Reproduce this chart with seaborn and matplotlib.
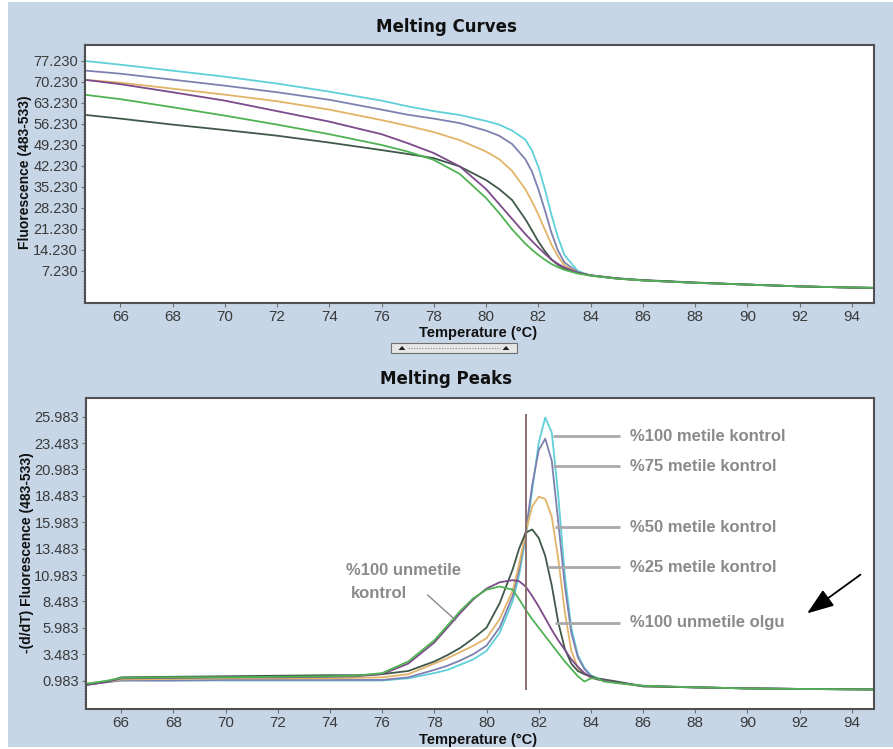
import numpy as np
import pandas as pd
import matplotlib
matplotlib.use("Agg")
import matplotlib.pyplot as plt
from matplotlib.patches import Rectangle, Polygon
from matplotlib.lines import Line2D
import seaborn as sns

# ---------------------------------------------------------------- data
samples = ["%100 metile kontrol", "%75 metile kontrol", "%50 metile kontrol",
           "%25 metile kontrol", "%100 unmetile olgu", "%100 unmetile kontrol"]
sample_colors = ["#5fd0d8", "#7e80b0", "#e2b468", "#3f5848", "#7c4a8a", "#4fb253"]

# Melting curves: fluorescence (483-533) vs temperature
melt_temp = [64.7, 66, 68, 70, 72, 74, 76, 77, 78, 79, 80, 80.5, 81, 81.5, 81.75,
             82, 82.25, 82.5, 82.75, 83, 83.5, 84, 85, 86, 88, 90, 92, 94, 94.85]
melt_m100 = [77.2, 76.0, 74.0, 72.0, 69.7, 67.0, 64.0, 62.1, 60.5, 59.2, 57.2, 56.0,
             54.0, 51.0, 47.5, 42.0, 34.5, 26.0, 18.5, 12.5, 7.2, 5.6, 4.6, 4.0,
             3.2, 2.6, 2.0, 1.6, 1.5]
melt_m75 = [74.0, 73.0, 71.0, 69.0, 66.8, 64.3, 61.0, 59.3, 58.0, 56.5, 54.0, 52.3,
            49.5, 44.5, 40.5, 34.5, 27.5, 20.0, 14.0, 10.0, 6.8, 5.6, 4.6, 4.0,
            3.2, 2.6, 2.0, 1.6, 1.5]
melt_m50 = [70.9, 70.0, 68.0, 66.0, 63.8, 61.0, 57.5, 55.6, 53.5, 50.8, 47.0, 44.5,
            40.5, 34.5, 30.5, 26.0, 21.0, 16.0, 12.0, 9.0, 6.6, 5.6, 4.6, 4.0,
            3.2, 2.6, 2.0, 1.6, 1.5]
melt_m25 = [59.2, 58.0, 56.0, 54.2, 52.3, 50.0, 47.5, 46.2, 44.8, 42.0, 37.5, 34.5,
            30.8, 24.5, 20.8, 17.0, 13.8, 11.0, 9.2, 8.0, 6.5, 5.7, 4.7, 4.1,
            3.3, 2.6, 2.0, 1.6, 1.5]
melt_u_case = [70.9, 69.5, 66.8, 64.0, 60.5, 57.0, 52.8, 49.8, 46.5, 42.0, 34.5, 29.5,
               24.5, 19.5, 17.2, 15.0, 12.9, 11.0, 9.5, 8.3, 6.6, 5.7, 4.7, 4.0,
               3.2, 2.6, 2.0, 1.6, 1.5]
melt_u_ctrl = [65.9, 64.5, 61.8, 59.0, 56.0, 52.8, 49.2, 47.0, 44.2, 39.5, 31.5, 26.5,
               21.0, 16.3, 14.3, 12.5, 10.9, 9.5, 8.4, 7.5, 6.3, 5.6, 4.6, 4.0,
               3.2, 2.6, 2.0, 1.6, 1.5]

# Melting peaks: -(d/dT) fluorescence vs temperature
peak_temp = [64.7, 65.5, 66, 68, 70, 72, 74, 75, 76, 77, 78, 78.5, 79, 79.5, 80,
             80.5, 81, 81.25, 81.5, 81.75, 82, 82.25, 82.5, 82.75, 83, 83.25, 83.5,
             83.75, 84, 84.25, 84.5, 85, 86, 88, 90, 92, 94.85]
peak_m100 = [0.7, 0.9, 1.0, 1.0, 1.0, 1.0, 1.0, 1.0, 1.0, 1.2, 1.7, 2.0, 2.5, 3.0, 3.8,
             5.5, 8.5, 11.0, 14.5, 19.0, 23.5, 25.9, 24.5, 18.5, 11.0, 6.0, 3.4,
             2.2, 1.5, 1.2, 1.0, 0.8, 0.45, 0.35, 0.25, 0.2, 0.15]
peak_m75 = [0.6, 0.85, 1.0, 1.0, 1.05, 1.05, 1.05, 1.05, 1.05, 1.3, 2.0, 2.4, 2.9, 3.5,
            4.3, 6.0, 9.0, 11.5, 15.0, 19.5, 22.8, 23.9, 21.8, 16.0, 10.0, 5.5, 3.2,
            2.1, 1.4, 1.15, 1.0, 0.8, 0.45, 0.35, 0.25, 0.2, 0.15]
peak_m50 = [0.7, 0.9, 1.1, 1.15, 1.2, 1.2, 1.2, 1.25, 1.3, 1.6, 2.6, 3.1, 3.7, 4.3, 5.0,
            6.8, 9.5, 12.0, 15.0, 17.5, 18.4, 18.2, 16.5, 12.5, 7.5, 3.8, 2.2,
            1.6, 1.3, 1.1, 1.0, 0.8, 0.45, 0.35, 0.25, 0.2, 0.15]
peak_m25 = [0.6, 0.9, 1.3, 1.35, 1.4, 1.45, 1.5, 1.5, 1.6, 1.9, 2.8, 3.4, 4.1, 5.0, 6.0,
            8.3, 11.5, 13.5, 15.0, 15.3, 14.5, 12.8, 10.0, 6.5, 4.0, 2.6, 1.9,
            1.6, 1.4, 1.2, 1.1, 0.9, 0.45, 0.35, 0.25, 0.2, 0.15]
peak_u_case = [0.6, 0.9, 1.2, 1.25, 1.3, 1.3, 1.35, 1.4, 1.6, 2.6, 4.6, 6.0, 7.4, 8.7,
               9.7, 10.3, 10.5, 10.4, 9.9, 9.0, 8.0, 6.9, 5.8, 4.8, 3.9, 3.0, 2.3,
               1.7, 1.3, 1.1, 1.0, 0.8, 0.5, 0.35, 0.25, 0.2, 0.15]
peak_u_ctrl = [0.7, 1.0, 1.25, 1.3, 1.3, 1.35, 1.4, 1.45, 1.7, 2.8, 4.8, 6.2, 7.6, 8.8,
               9.6, 9.9, 9.6, 8.7, 7.7, 6.8, 6.0, 5.2, 4.4, 3.6, 2.8, 2.1, 1.4,
               0.9, 1.2, 1.2, 0.9, 0.75, 0.5, 0.35, 0.25, 0.2, 0.15]

temp_ticks = list(range(66, 95, 2))
melt_yticks = [7.23, 14.23, 21.23, 28.23, 35.23, 42.23, 49.23, 56.23, 63.23, 70.23, 77.23]
peak_yticks = [0.983, 3.483, 5.983, 8.483, 10.983, 13.483, 15.983, 18.483, 20.983,
               23.483, 25.983]
cursor_temp = 81.5

melt_series = [melt_m100, melt_m75, melt_m50, melt_m25, melt_u_case, melt_u_ctrl]
peak_series = [peak_m100, peak_m75, peak_m50, peak_m25, peak_u_case, peak_u_ctrl]

curves = pd.DataFrame({
    "Temperature": np.tile(melt_temp, len(samples)),
    "Fluorescence": np.concatenate(melt_series),
    "Sample": np.repeat(samples, len(melt_temp)),
})
peaks = pd.DataFrame({
    "Temperature": np.tile(peak_temp, len(samples)),
    "dFdT": np.concatenate(peak_series),
    "Sample": np.repeat(samples, len(peak_temp)),
})
palette = dict(zip(samples, sample_colors))

# ---------------------------------------------------------------- style
sns.set_style("white")
plt.rcParams["font.family"] = ["Liberation Sans", "DejaVu Sans"]

W, H = 893, 749
fig = plt.figure(figsize=(W / 100, H / 100), dpi=100, facecolor="white")


def fx(px):
    return px / W


def fy(py):
    return 1 - py / H


panel_blue = "#c6d6e7"
fig.add_artist(Rectangle((fx(8), fy(747)), fx(893) - fx(8), fy(2) - fy(747),
                         transform=fig.transFigure, facecolor=panel_blue,
                         edgecolor="none", zorder=-10))

ax1 = fig.add_axes([fx(85), fy(303), fx(874) - fx(85), fy(45) - fy(303)])
ax2 = fig.add_axes([fx(86), fy(709), fx(874) - fx(86), fy(398) - fy(709)])

sns.lineplot(data=curves, x="Temperature", y="Fluorescence", hue="Sample",
             palette=palette, estimator=None, sort=False, legend=False,
             lw=1.3, ax=ax1)
sns.lineplot(data=peaks, x="Temperature", y="dFdT", hue="Sample",
             palette=palette, estimator=None, sort=False, legend=False,
             lw=1.3, ax=ax2)

ax1.set_xlim(64.65, 94.85)
ax1.set_ylim(-3.55, 82.57)
ax2.set_xlim(64.65, 94.85)
ax2.set_ylim(-1.70, 27.75)

for ax, yt in ((ax1, melt_yticks), (ax2, peak_yticks)):
    ax.set_facecolor("white")
    ax.set_xticks(temp_ticks)
    ax.set_xticklabels([str(t) for t in temp_ticks])
    ax.set_yticks(yt)
    ax.set_yticklabels(["{:.3f}".format(v) for v in yt])
    ax.set_xlabel("")
    ax.set_ylabel("")
    ax.tick_params(axis="both", which="major", direction="out", length=3,
                   width=0.8, color="#707070", labelcolor="#3a3a3a",
                   pad=2, bottom=True, left=True)
    ax.tick_params(axis="x", which="major", labelsize=11)
    ax.tick_params(axis="y", which="major", labelsize=10.5)
    ax.tick_params(axis="y", which="minor", direction="out", length=1.5,
                   width=0.6, color="#909090", left=True)
    for sp in ax.spines.values():
        sp.set_color("#505050")
        sp.set_linewidth(1.5)

ax1.set_yticks(np.arange(-3.0, 82.0, 1.0), minor=True)
ax2.set_yticks(np.arange(-1.5, 27.5, 0.25), minor=True)

# cursor line at the melting temperature
ax2.vlines(cursor_temp, 0.1, 26.2, color="#8a7070", lw=1.4, zorder=4)

# sample labels with leader lines
label_color = "#8a8a8a"
label_y = [24.15, 21.31, 15.53, 11.74, 6.45]
leader_start = [82.53, 82.56, 82.64, 82.37, 82.64]
for name, y, x0 in zip(samples[:5], label_y, leader_start):
    ax2.plot([x0, 85.13], [y, y], color="#a9a9a9", lw=2, solid_capstyle="butt",
             zorder=3)
    ax2.text(85.5, y, name, ha="left", va="center", color=label_color,
             fontsize=12, fontweight="bold")

ax2.text(74.61, 11.46, "%100 unmetile", ha="left", va="center", color=label_color,
         fontsize=12, fontweight="bold")
ax2.text(74.8, 9.28, "kontrol", ha="left", va="center", color=label_color,
         fontsize=12, fontweight="bold")
ax2.plot([77.74, 78.82], [9.1, 6.7], color=label_color, lw=1.0, zorder=3)

ax2.annotate("", xy=(92.2, 7.2), xytext=(94.42, 11.18),
             arrowprops=dict(arrowstyle="-|>,head_length=1.1,head_width=0.4",
                             mutation_scale=15, color="black", lw=1.3))

# panel titles and axis labels
title_font = dict(family=["DejaVu Sans"], fontsize=12, fontweight="heavy",
                  color="#101010", ha="center", va="center")
fig.text(fx(446), fy(27), "Melting Curves", **title_font)
fig.text(fx(446), fy(379), "Melting Peaks", **title_font)
fig.text(fx(478), fy(333), "Temperature (°C)", ha="center", va="center",
         fontsize=10.5, fontweight="bold", color="#101010")
fig.text(fx(478), fy(740), "Temperature (°C)", ha="center", va="center",
         fontsize=10.5, fontweight="bold", color="#101010")
fig.text(fx(25), fy(172), "Fluorescence (483-533)", rotation=90, ha="center",
         va="center", fontsize=10, fontweight="bold", color="#101010")
fig.text(fx(27), fy(553), "-(d/dT) Fluorescence (483-533)", rotation=90,
         ha="center", va="center", fontsize=10, fontweight="bold",
         color="#101010")

# small splitter handle between the two panels
fig.add_artist(Rectangle((fx(391), fy(353)), fx(517) - fx(391), fy(343) - fy(353),
                         transform=fig.transFigure, facecolor="#e6e6e6",
                         edgecolor="#707070", lw=0.8))
fig.add_artist(Line2D([fx(408), fx(500)], [fy(348), fy(348)],
                      transform=fig.transFigure, color="#8a8a8a", lw=0.8,
                      linestyle=(0, (1, 1.5))))
for cx in (402, 506):
    fig.add_artist(Polygon([(fx(cx - 3.5), fy(350)), (fx(cx + 3.5), fy(350)),
                            (fx(cx), fy(346))], closed=True,
                           transform=fig.transFigure, facecolor="#202020",
                           edgecolor="none"))

fig.savefig("out.png", dpi=100, facecolor="white")
